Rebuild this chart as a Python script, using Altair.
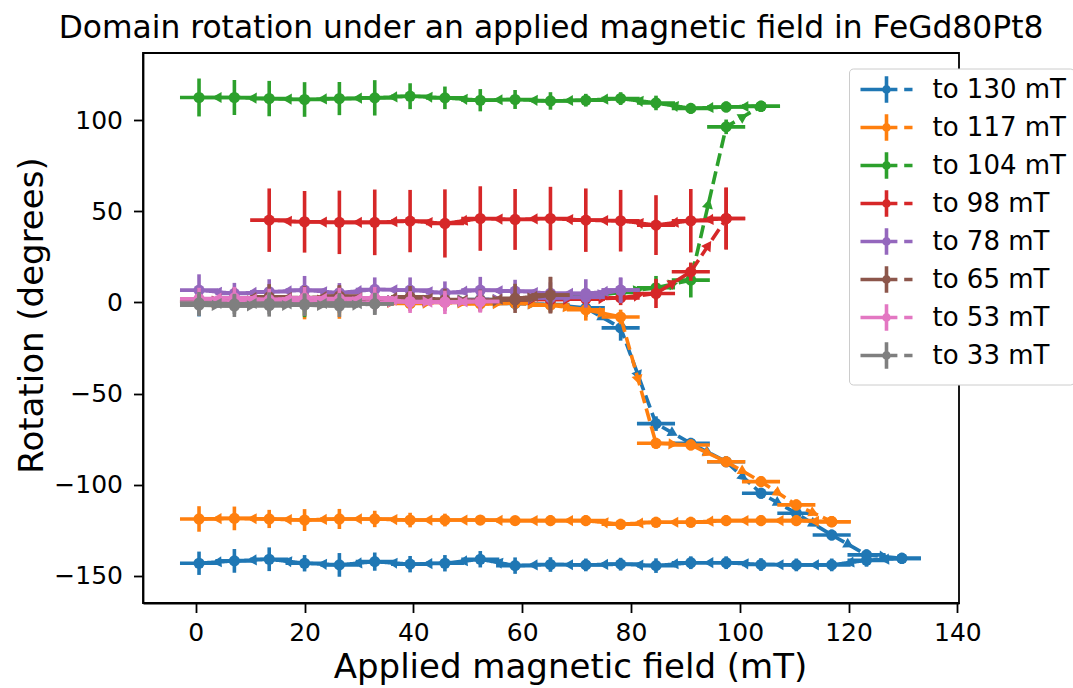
import math
import altair as alt
import pandas as pd

# ---------------- data ----------------
FIELD = [0.6, 7.1, 13.5, 20.0, 26.4, 32.9, 39.4, 45.8, 52.3, 58.7, 65.2,
         71.7, 78.1, 84.6, 91.0, 97.5, 103.9, 110.4, 116.9, 123.3, 129.8]
FIELD_ERR = 3.5

SERIES = ["to 130 mT", "to 117 mT", "to 104 mT", "to 98 mT",
          "to 78 mT", "to 65 mT", "to 53 mT", "to 33 mT"]
COLORS = ["#1f77b4", "#ff7f0e", "#2ca02c", "#d62728",
          "#9467bd", "#8c564b", "#e377c2", "#7f7f7f"]

UP_130 = [0.8, -0.5, 0.5, -1.0, 0.2, 0.6, -0.4, 0.3, -0.2, -0.6, -1.2, -3.0,
          -14.0, -66.5, -77.3, -87.4, -104.7, -115.7, -127.6, -138.5, -140.4]
UP_130_ERR = [8.5, 4, 4, 4, 4, 4, 3.5, 3.5, 4, 3.5, 4, 5, 7, 4, 3, 3, 3, 3, 3, 3, 3]
DOWN_130 = [-143.1, -141.8, -140.9, -143.1, -144.0, -142.2, -143.6, -143.1, -140.9,
            -144.4, -143.8, -144.0, -143.6, -144.4, -142.8, -142.8, -143.8, -144.0,
            -144.0, -141.5, -140.4]
DOWN_130_ERR = [6.4, 6.5, 6.5, 4.5, 6.5, 5, 4.5, 4.5, 4.5, 4.5, 4, 3.5, 3.5, 4,
                3.5, 3.5, 3.5, 3.5, 3.5, 3.5, 3]

UP_117 = [0.3, -0.6, 0.6, -0.8, 0.0, 0.4, -0.6, 0.0, -0.8, -0.5, -1.5, -4.0,
          -8.0, -77.3, -78.2, -87.4, -98.3, -111.1, -120.3]
UP_117_ERR = [4, 4, 4, 8.5, 9, 4, 4, 4, 4, 3.5, 4, 6, 4, 3, 3, 3, 3, 3, 3]
DOWN_117 = [-118.8, -118.5, -118.8, -119.4, -118.8, -118.8, -119.4, -119.4, -119.4,
            -119.7, -119.7, -119.7, -121.7, -120.6, -120.6, -119.7, -119.7, -119.7,
            -120.3]
DOWN_117_ERR = [7, 6.5, 5, 6, 5.5, 4.5, 4, 3.5, 2.5, 2.5, 3, 3, 3, 3, 3, 3, 3, 3, 3]

UP_104 = [0.5, 0.2, 1.0, 0.4, 0.8, 1.0, 0.5, 1.2, 1.5, 1.4, 2.0, 3.0, 5.5, 8.0,
          12.2, 96.3, 107.6]
UP_104_ERR = [4, 4, 4, 8.5, 4, 4, 4, 4, 4, 4, 4, 4, 4, 6.5, 9.5, 4, 3]
DOWN_104 = [112.4, 112.4, 111.8, 111.3, 111.8, 112.2, 113.1, 112.2, 110.9, 111.3,
            110.5, 110.9, 111.8, 109.4, 106.4, 107.2, 107.6]
DOWN_104_ERR = [10.4, 9.6, 9.7, 9.5, 9.1, 9.7, 7.1, 6.2, 6.1, 5.2, 4.8, 3.5, 3.5,
                4, 3, 3, 3]

UP_98 = [0.6, 1.0, 0.4, 1.5, 1.0, 0.8, 1.2, 0.5, 1.0, 1.5, 1.6, 1.8, 2.5, 4.9,
         16.8, 46.0]
UP_98_ERR = [4, 4, 4, 4, 4, 4, 4, 4, 4, 4, 4, 4, 4, 8, 5, 17]
DOWN_98 = [45.1, 44.2, 43.9, 43.9, 44.6, 43.3, 46.0, 45.5, 46.0, 45.1, 44.8,
           42.4, 44.8, 46.0]
DOWN_98_ERR = [17.4, 16.9, 17.4, 18.0, 17.1, 18.7, 17.7, 16.7, 17.4, 17.4, 16.9,
               16.4, 17.4, 16.9]

UP_78 = [0.5, 0.2, 1.0, 0.5, 1.2, 0.8, 1.5, 1.0, 1.5, 2.0, 2.5, 2.8, 6.7]
UP_78_ERR = [4, 4, 4, 4, 4, 4, 4, 4, 4, 4, 4, 4, 6.9]
DOWN_78 = [6.7, 4.9, 5.8, 6.7, 5.3, 7.1, 6.7, 5.3, 6.7, 6.2, 5.0, 4.9, 6.7]
DOWN_78_ERR = [8.7, 5.8, 6.9, 7.8, 5.3, 6.6, 7.0, 6.2, 7.3, 6.2, 6.0, 7.8, 6.9]

UP_65 = [0.2, 0.5, -0.3, 0.8, 0.5, 0.2, 0.8, 1.0, 0.5, 1.5, 4.0]
UP_65_ERR = [4, 4, 4, 4, 4, 4, 4, 4, 4, 4, 10]
DOWN_65 = [1.5, 2.0, 3.0, 2.5, 3.5, 2.0, 3.0, 1.5, 1.0, 2.2, 4.0]
DOWN_65_ERR = [6, 6, 7, 6.5, 6, 6, 6, 6, 6, 8, 10]

UP_53 = [0.0, 0.3, -0.2, 0.5, 0.2, 0.0, 0.5, 0.3, 0.5]
UP_53_ERR = [5, 5, 5, 5, 5, 5, 5, 5, 6]
DOWN_53 = [2.0, 2.5, 1.5, 2.5, 2.0, 2.5, 0.2, 0.0, 0.5]
DOWN_53_ERR = [6, 6, 6, 6, 6, 6, 6, 6.4, 6]

UP_33 = [-1.5, -2.0, -1.8, -1.5, -2.0, -0.8]
UP_33_ERR = [6, 6, 6, 6, 6, 6]
DOWN_33 = [-0.3, -0.8, -0.5, -1.0, -0.4, -0.8]
DOWN_33_ERR = [6, 5.5, 6, 6, 5.5, 6]

DOWN_START = [0, 0, 0, 2, 0, 0, 0, 0]

UPS = [UP_130, UP_117, UP_104, UP_98, UP_78, UP_65, UP_53, UP_33]
UP_ERRS = [UP_130_ERR, UP_117_ERR, UP_104_ERR, UP_98_ERR, UP_78_ERR, UP_65_ERR,
           UP_53_ERR, UP_33_ERR]
DOWNS = [DOWN_130, DOWN_117, DOWN_104, DOWN_98, DOWN_78, DOWN_65, DOWN_53, DOWN_33]
DOWN_ERRS = [DOWN_130_ERR, DOWN_117_ERR, DOWN_104_ERR, DOWN_98_ERR, DOWN_78_ERR,
             DOWN_65_ERR, DOWN_53_ERR, DOWN_33_ERR]

# ---------------- layout ----------------
W, H = 816, 550
X_DOMAIN = [-9.7, 140.3]
Y_DOMAIN = [-164.9, 136.8]
SX = W / (X_DOMAIN[1] - X_DOMAIN[0])
SY = H / (Y_DOMAIN[1] - Y_DOMAIN[0])
LW = 3.6
MS = 125
FONT = "DejaVu Sans"


def heading(x1, y1, x2, y2):
    dx = (x2 - x1) * SX
    dy = -(y2 - y1) * SY
    return math.degrees(math.atan2(dy, dx)) % 360


XS = alt.Scale(domain=X_DOMAIN, nice=False, zero=False)
YS = alt.Scale(domain=Y_DOMAIN, nice=False, zero=False)
XAX = alt.Axis(values=list(range(0, 141, 20)), title="Applied magnetic field (mT)",
               titleX=427, titleY=74, titleBaseline="alphabetic")
YAX = alt.Axis(values=[-150, -100, -50, 0, 50, 100], title="Rotation (degrees)",
               titleX=-101, titleY=262, titleBaseline="alphabetic")


def xenc():
    return alt.X("x:Q", scale=XS, axis=XAX)


def yenc():
    return alt.Y("y:Q", scale=YS, axis=YAX)


layers = []
for i, name in enumerate(SERIES):
    up, uerr = UPS[i], UP_ERRS[i]
    dn, derr, d0 = DOWNS[i], DOWN_ERRS[i], DOWN_START[i]
    up_path = [(FIELD[k], up[k], uerr[k]) for k in range(len(up))]
    dn_path = [(FIELD[d0 + j], dn[j], derr[j]) for j in range(len(dn))][::-1]
    line_rows, pt_rows, rule_rows, tri_rows = [], [], [], []
    for pname, path in (("up", up_path), ("down", dn_path)):
        for j, (x, y, e) in enumerate(path):
            line_rows.append({"path": pname, "order": j, "x": x, "y": y})
            pt_rows.append({"x": x, "y": y})
            rule_rows.append({"x": x, "x2": x, "y": y - e, "y2": y + e})
            rule_rows.append({"x": x - FIELD_ERR, "x2": x + FIELD_ERR, "y": y, "y2": y})
        for (x1, y1, _), (x2, y2, _) in zip(path[:-1], path[1:]):
            tri_rows.append({"x": (x1 + x2) / 2, "y": (y1 + y2) / 2,
                             "angle": heading(x1, y1, x2, y2)})
    col = COLORS[i]
    rules = alt.Chart(pd.DataFrame(rule_rows)).mark_rule(
        color=col, strokeWidth=LW).encode(
        x=xenc(), x2="x2:Q", y=yenc(), y2="y2:Q")
    lines = alt.Chart(pd.DataFrame(line_rows)).mark_line(
        color=col, strokeWidth=LW).encode(
        x=xenc(), y=yenc(), detail="path:N", order="order:Q",
        strokeDash=alt.StrokeDash("path:N", scale=alt.Scale(
            domain=["up", "down"], range=[[13, 5.5], [1, 0]]), legend=None))
    pts = alt.Chart(pd.DataFrame(pt_rows)).mark_point(
        shape="circle", filled=True, size=MS, color=col, opacity=1,
        strokeWidth=0).encode(x=xenc(), y=yenc())
    tris = alt.Chart(pd.DataFrame(tri_rows)).mark_point(
        shape="triangle-right", filled=True, size=MS, color=col, opacity=1,
        strokeWidth=0).encode(x=xenc(), y=yenc(),
                              angle=alt.Angle("angle:Q", scale=None))
    layers += [rules, lines, pts, tris]

# legend symbol: solid line, error-bar cross with dot, then dashes (unit = 10 px)
LEGEND_PATH = ("M-2.6,0H0.15M0.42,0H1.09M1.77,0H2.6M0,-1.33V1.33"
               "M0.26,0A0.26,0.26,0,1,1,-0.26,0A0.26,0.26,0,1,1,0.26,0"
               "M0.1,0A0.1,0.1,0,1,1,-0.1,0A0.1,0.1,0,1,1,0.1,0")

legend = alt.Legend(orient="none", legendX=706, legendY=15.5,
                    symbolType=LEGEND_PATH, symbolSize=400, symbolStrokeWidth=LW,
                    symbolOffset=16.5, labelFont=FONT, labelFontSize=26,
                    labelColor="black", labelOffset=33, padding=8, rowPadding=-4,
                    strokeColor="#cccccc", fillColor="#ffffff",
                    cornerRadius=4)

carrier = alt.Chart(alt.Data(values=[{"series": s} for s in SERIES])).mark_line(
    strokeWidth=LW).encode(
    x=xenc(), y=yenc(),
    stroke=alt.Stroke("series:N", scale=alt.Scale(domain=SERIES, range=COLORS),
                      legend=legend, title=None))
layers.append(carrier)

chart = alt.layer(*layers).properties(
    width=W, height=H,
    title=alt.TitleParams("Domain rotation under an applied magnetic field in FeGd80Pt8",
                          font=FONT, fontSize=31.35, fontWeight="normal", color="black",
                          anchor="middle", offset=15, baseline="alphabetic", dy=31),
    padding={"left": 143, "top": 53, "right": 114, "bottom": 85},
    autosize=alt.AutoSizeParams(type="none"),
).configure_axis(
    labelFont=FONT, labelFontSize=25, labelColor="black",
    labelFlush=False, labelOverlap=False,
    titleFont=FONT, titleFontSize=34, titleFontWeight="normal", titleColor="black",
    domainColor="black", domainWidth=1.8, tickColor="black", tickWidth=1.8,
    tickSize=9.5, grid=False,
).configure_axisX(labelPadding=8).configure_axisY(labelPadding=11).configure_view(
    stroke="black", strokeWidth=1.8)

chart.save("out.html", embed_options={"renderer": "svg", "actions": False})
